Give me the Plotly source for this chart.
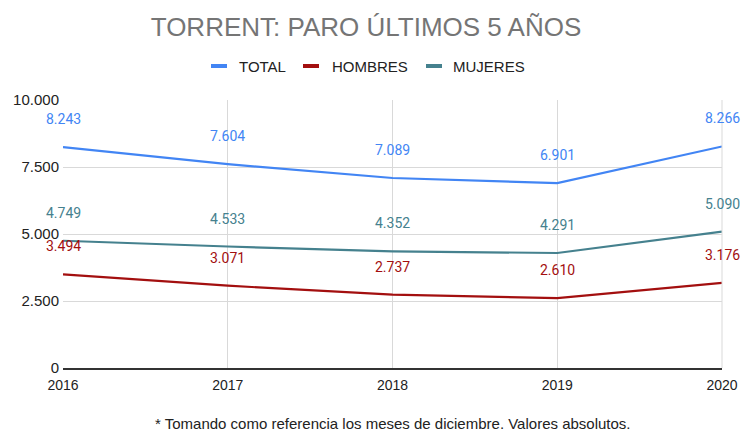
import plotly.graph_objects as go

years = [2016, 2017, 2018, 2019, 2020]
total = [8243, 7604, 7089, 6901, 8266]
hombres = [3494, 3071, 2737, 2610, 3176]
mujeres = [4749, 4533, 4352, 4291, 5090]
y_ticks = [0, 2500, 5000, 7500, 10000]
y_tick_text = ["0", "2.500", "5.000", "7.500", "10.000"]

series = [
    ("TOTAL", total, "#4285F4"),
    ("HOMBRES", hombres, "#A30F0F"),
    ("MUJERES", mujeres, "#45818E"),
]

W, H = 742, 432
L, R, T, B = 63, 20, 100, 64
PW, PH = W - L - R, H - T - B

def px_x(px):
    return (px - L) / PW

def px_y(py):
    return (H - B - py) / PH

def fmt(v):
    return f"{v:,}".replace(",", ".")

fig = go.Figure()
annotations = []
shapes = []
for name, vals, col in series:
    fig.add_trace(go.Scatter(x=years, y=vals, mode="lines", name=name,
                             line=dict(color=col, width=2.2), hoverinfo="skip",
                             showlegend=False))
    for x, v in zip(years, vals):
        annotations.append(dict(x=x, y=v, xref="x", yref="y", text=fmt(v),
                                showarrow=False, yshift=28,
                                font=dict(family="Roboto, Arial", size=14, color=col)))

# custom legend (icon start px, text start px)
legend_pos = [(211, 237), (303, 330), (426, 451)]
ly = 66
for (name, vals, col), (ix, tx) in zip(series, legend_pos):
    shapes.append(dict(type="line", xref="paper", yref="paper",
                       x0=px_x(ix), x1=px_x(ix + 16), y0=px_y(ly), y1=px_y(ly),
                       line=dict(color=col, width=4)))
    annotations.append(dict(x=px_x(tx), y=px_y(ly), xref="paper", yref="paper",
                            xanchor="left", yanchor="middle", text=name, showarrow=False,
                            font=dict(family="Arial, Liberation Sans", size=15, color="#222222")))

annotations.append(dict(x=px_x(393), y=px_y(423), xref="paper", yref="paper",
                        xanchor="center", yanchor="middle",
                        text="* Tomando como referencia los meses de diciembre. Valores absolutos.",
                        showarrow=False,
                        font=dict(family="Arial, Liberation Sans", size=15, color="#222222")))

shapes.append(dict(type="line", xref="paper", yref="paper", x0=1, x1=1, y0=0, y1=1,
                   line=dict(color="#d9d9d9", width=1)))

fig.update_layout(
    width=W, height=H,
    margin=dict(l=L, r=R, t=T, b=B, autoexpand=False),
    paper_bgcolor="white", plot_bgcolor="white",
    title=dict(text="TORRENT: PARO ÚLTIMOS 5 AÑOS", x=366 / W, xanchor="center",
               y=1 - 27 / H, yanchor="middle",
               font=dict(family="Arial, Liberation Sans", size=26, color="#757575")),
    showlegend=False,
    annotations=annotations,
    shapes=shapes,
    xaxis=dict(range=[2016, 2020], tickvals=years, ticktext=[str(y) for y in years],
               showgrid=True, gridcolor="#d9d9d9", zeroline=False,
               showline=True, linecolor="#333333", linewidth=1.5,
               tickfont=dict(family="Arial, Liberation Sans", size=14, color="#222222"),
               ticks="", ticklabelstandoff=3, fixedrange=True),
    yaxis=dict(range=[0, 10000], tickvals=y_ticks, ticktext=y_tick_text,
               showgrid=True, gridcolor="#d9d9d9", zeroline=False,
               showline=False,
               tickfont=dict(family="Arial, Liberation Sans", size=15, color="#222222"),
               ticks="", ticklabelstandoff=3, fixedrange=True),
)

fig.write_html("out.html", config={"displayModeBar": False},
               post_script="document.body.style.margin='0';document.body.style.overflow='hidden';")
